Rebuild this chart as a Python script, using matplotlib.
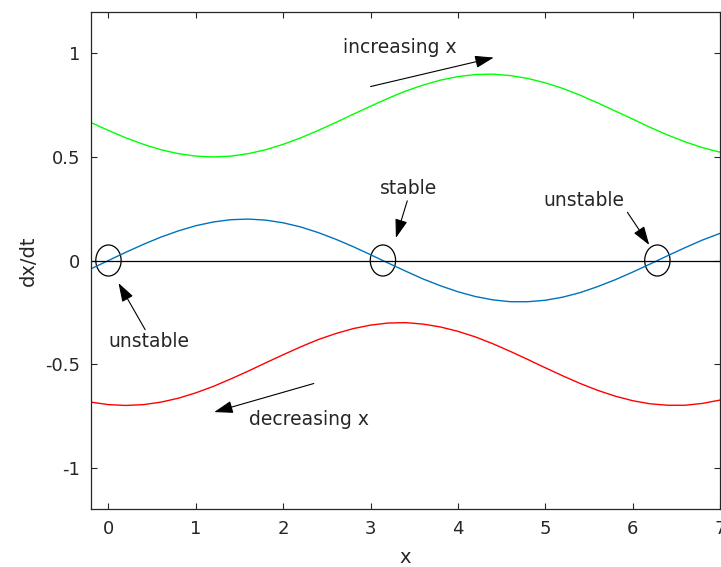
import matplotlib
matplotlib.use("Agg")
import matplotlib.pyplot as plt
from matplotlib.patches import Ellipse

x = [-0.2, 0.0, 0.2, 0.4, 0.6, 0.8, 1.0, 1.2, 1.4, 1.6, 1.8, 2.0, 2.2, 2.4, 2.6, 2.8,
     3.0, 3.2, 3.4, 3.6, 3.8, 4.0, 4.2, 4.4, 4.6, 4.8, 5.0, 5.2, 5.4, 5.6, 5.8, 6.0,
     6.2, 6.4, 6.6, 6.8, 7.0]
blue = [-0.040, 0.000, 0.040, 0.078, 0.113, 0.143, 0.168, 0.186, 0.197, 0.200, 0.195,
        0.182, 0.162, 0.135, 0.103, 0.067, 0.028, -0.012, -0.051, -0.089, -0.122,
        -0.151, -0.174, -0.190, -0.199, -0.199, -0.192, -0.177, -0.155, -0.126,
        -0.093, -0.056, -0.017, 0.023, 0.062, 0.099, 0.131]
green = [0.666, 0.628, 0.592, 0.561, 0.535, 0.516, 0.504, 0.500, 0.504, 0.516, 0.535,
         0.561, 0.592, 0.628, 0.666, 0.706, 0.745, 0.783, 0.818, 0.847, 0.871, 0.888,
         0.898, 0.900, 0.893, 0.879, 0.858, 0.831, 0.798, 0.761, 0.722, 0.683, 0.643,
         0.606, 0.573, 0.545, 0.523]
red = [-0.684, -0.696, -0.700, -0.696, -0.684, -0.665, -0.639, -0.608, -0.572, -0.534,
       -0.494, -0.455, -0.417, -0.382, -0.353, -0.329, -0.312, -0.302, -0.300, -0.307,
       -0.321, -0.342, -0.369, -0.402, -0.439, -0.478, -0.518, -0.557, -0.594, -0.627,
       -0.655, -0.677, -0.692, -0.699, -0.699, -0.690, -0.674]

fixed_points = [0.0, 3.1416, 6.2832]
xticks = [0, 1, 2, 3, 4, 5, 6, 7]
yticks = [-1, -0.5, 0, 0.5, 1]
yticklabels = ["-1", "-0.5", "0", "0.5", "1"]

# annotations: (text, text_xy, arrow_tail, arrow_tip)
annotations = [
    ("increasing x", (3.34, 1.03), (3.00, 0.84), (4.41, 0.98)),
    ("decreasing x", (2.29, -0.77), (2.35, -0.594), (1.21, -0.732)),
    ("stable", (3.43, 0.35), (3.42, 0.288), (3.29, 0.109)),
    ("unstable", (5.44, 0.29), (5.94, 0.233), (6.19, 0.075)),
    ("unstable", (0.46, -0.39), (0.42, -0.334), (0.115, -0.109)),
]

dark = "#262626"
fig = plt.figure(figsize=(7.21, 5.67), dpi=100)
ax = fig.add_axes([91 / 721, 58 / 567, 629 / 721, 497 / 567])

ax.plot(x, green, color="#00ff00", lw=1.0)
ax.plot(x, blue, color="#0072bd", lw=1.0)
ax.plot(x, red, color="#ff0000", lw=1.0)
ax.axhline(0, color="black", lw=0.9)

for fp in fixed_points:
    ax.add_patch(Ellipse((fp, 0), 0.29, 0.15, fill=False, edgecolor="black", lw=0.9))

for txt, txy, tail, tip in annotations:
    ax.annotate("", xy=tip, xytext=tail,
                arrowprops=dict(arrowstyle="-|>,head_length=1.15,head_width=0.38",
                                color="black", lw=0.8, shrinkA=0, shrinkB=0))
    ax.text(txy[0], txy[1], txt, ha="center", va="center", fontsize=13.5, color=dark)

ax.set_xlim(-0.2, 7.0)
ax.set_ylim(-1.2, 1.2)
ax.set_xticks(xticks)
ax.set_yticks(yticks)
ax.set_yticklabels(yticklabels)
ax.tick_params(direction="in", length=4, width=0.8, colors=dark, labelsize=13,
               top=True, right=True, pad=8)
for s in ax.spines.values():
    s.set_color(dark)
    s.set_linewidth(0.9)
ax.set_xlabel("x", fontsize=14, color=dark, labelpad=7)
ax.set_ylabel("dx/dt", fontsize=14, color=dark, labelpad=5)

fig.savefig("out.png", dpi=100)
